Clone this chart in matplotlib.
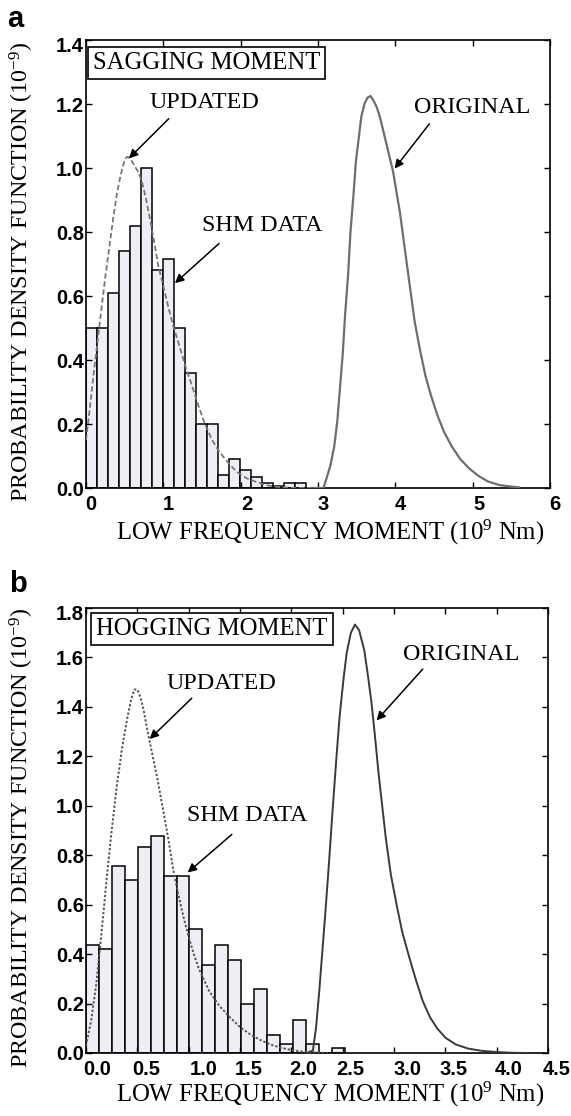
import matplotlib
matplotlib.use("Agg")
import matplotlib.pyplot as plt
from matplotlib.transforms import ScaledTranslation

# ---------------- data ----------------
# Panel a (sagging)
a_bin_left = [0.000, 0.142, 0.284, 0.426, 0.568, 0.710, 0.852, 0.994, 1.136, 1.278,
              1.420, 1.562, 1.704, 1.846, 1.988, 2.130, 2.272, 2.414, 2.556, 2.698]
a_bin_width = 0.142
a_hist = [0.50, 0.50, 0.61, 0.74, 0.82, 1.00, 0.68, 0.715, 0.50, 0.36,
          0.20, 0.20, 0.04, 0.09, 0.055, 0.035, 0.017, 0.006, 0.015, 0.015]

a_upd_x = [0.00, 0.05, 0.10, 0.15, 0.20, 0.25, 0.30, 0.35, 0.40, 0.45, 0.50, 0.53, 0.57,
           0.62, 0.67, 0.72, 0.77, 0.82, 0.87, 0.93, 1.00, 1.07, 1.13, 1.20, 1.28, 1.37,
           1.45, 1.53, 1.63, 1.72, 1.80, 1.90, 1.97, 2.08, 2.19, 2.30, 2.41, 2.55, 2.70, 3.00]
a_upd_y = [0.15, 0.25, 0.36, 0.46, 0.56, 0.66, 0.75, 0.84, 0.92, 0.98, 1.025, 1.035, 1.03,
           1.01, 0.99, 0.96, 0.91, 0.85, 0.785, 0.70, 0.63, 0.56, 0.505, 0.45, 0.385, 0.32,
           0.26, 0.205, 0.15, 0.115, 0.09, 0.063, 0.047, 0.03, 0.02, 0.011, 0.005, 0.002, 0.0, 0.0]

a_org_x = [2.95, 3.07, 3.11, 3.16, 3.21, 3.25, 3.28, 3.32, 3.35, 3.39, 3.42, 3.46, 3.49, 3.53,
           3.56, 3.60, 3.64, 3.68, 3.72, 3.76, 3.80, 3.85, 3.90, 3.97, 4.06, 4.16, 4.25, 4.32,
           4.39, 4.46, 4.54, 4.63, 4.73, 4.84, 4.96, 5.08, 5.20, 5.35, 5.48, 5.60]
a_org_y = [0.0, 0.0, 0.03, 0.07, 0.13, 0.21, 0.30, 0.42, 0.54, 0.67, 0.80, 0.92, 1.02, 1.10,
           1.16, 1.20, 1.22, 1.225, 1.21, 1.19, 1.16, 1.11, 1.06, 0.99, 0.86, 0.68, 0.52, 0.43,
           0.35, 0.29, 0.23, 0.175, 0.13, 0.09, 0.06, 0.037, 0.02, 0.009, 0.005, 0.002]

a_xticks = [0, 1, 2, 3, 4, 5, 6]
a_xticklabels = ["0", "1", "2", "3", "4", "5", "6"]
a_yticks = [0.0, 0.2, 0.4, 0.6, 0.8, 1.0, 1.2, 1.4]
a_yticklabels = ["0.0", "0.2", "0.4", "0.6", "0.8", "1.0", "1.2", "1.4"]

# Panel b (hogging)
b_bin_left = [0.000, 0.126, 0.252, 0.378, 0.504, 0.630, 0.756, 0.882, 1.008, 1.134,
              1.260, 1.386, 1.512, 1.638, 1.764, 1.890, 2.016, 2.142, 2.268, 2.394]
b_bin_width = 0.126
b_hist = [0.435, 0.42, 0.757, 0.70, 0.835, 0.878, 0.716, 0.716, 0.50, 0.355,
          0.435, 0.378, 0.20, 0.258, 0.074, 0.036, 0.135, 0.036, 0.0, 0.02]

b_upd_x = [0.00, 0.05, 0.10, 0.15, 0.20, 0.25, 0.30, 0.35, 0.40, 0.44, 0.47, 0.50, 0.53,
           0.56, 0.60, 0.65, 0.70, 0.75, 0.80, 0.85, 0.90, 0.95, 1.00, 1.05, 1.10, 1.20,
           1.30, 1.40, 1.50, 1.60, 1.70, 1.80, 1.90, 2.00, 2.10, 2.20, 2.35]
b_upd_y = [0.03, 0.13, 0.28, 0.48, 0.70, 0.90, 1.08, 1.23, 1.35, 1.43, 1.47, 1.47, 1.44,
           1.39, 1.30, 1.20, 1.10, 0.985, 0.87, 0.74, 0.64, 0.55, 0.47, 0.40, 0.34, 0.25,
           0.19, 0.145, 0.105, 0.075, 0.052, 0.034, 0.021, 0.012, 0.006, 0.003, 0.0]

b_org_x = [2.15, 2.21, 2.24, 2.27, 2.30, 2.33, 2.36, 2.40, 2.44, 2.47, 2.51, 2.54, 2.58,
           2.62, 2.66, 2.71, 2.745, 2.78, 2.815, 2.85, 2.885, 2.92, 2.97, 3.03, 3.08, 3.14,
           3.21, 3.28, 3.35, 3.42, 3.50, 3.60, 3.72, 3.85, 4.00, 4.15, 4.30]
b_org_y = [0.0, 0.01, 0.10, 0.24, 0.40, 0.56, 0.73, 0.97, 1.20, 1.36, 1.52, 1.62, 1.70,
           1.733, 1.71, 1.63, 1.53, 1.42, 1.28, 1.13, 1.00, 0.87, 0.72, 0.59, 0.49, 0.40,
           0.30, 0.21, 0.145, 0.10, 0.062, 0.035, 0.018, 0.009, 0.004, 0.001, 0.0]

b_xticks = [0.0, 0.5, 1.0, 1.5, 2.0, 2.5, 3.0, 3.5, 4.0, 4.5]
b_xticklabels = ["0.0", "0.5", "1.0", "1.5", "2.0", "2.5", "3.0", "3.5", "4.0", "4.5"]
b_yticks = [0.0, 0.2, 0.4, 0.6, 0.8, 1.0, 1.2, 1.4, 1.6, 1.8]
b_yticklabels = ["0.0", "0.2", "0.4", "0.6", "0.8", "1.0", "1.2", "1.4", "1.6", "1.8"]

# ---------------- figure ----------------
plt.rcParams["mathtext.fontset"] = "custom"
plt.rcParams["mathtext.rm"] = "Liberation Serif"
plt.rcParams["mathtext.it"] = "Liberation Serif"
plt.rcParams["mathtext.default"] = "rm"

W, H = 571, 1116
fig = plt.figure(figsize=(W / 100, H / 100), dpi=100)

SERIF = ["Liberation Serif", "DejaVu Serif"]
SANS = ["Liberation Sans", "DejaVu Sans"]
SERIF_SIZE = 17.8
YLAB_SIZE = 17.3
TICK_SIZE = 14.5


def px_axes(x0, x1, ytop, ybot):
    return fig.add_axes([x0 / W, 1 - ybot / H, (x1 - x0) / W, (ybot - ytop) / H])


def style_axes(ax, xlim, ylim, xticks, xtl, yticks, ytl, xoffs):
    ax.set_xlim(*xlim)
    ax.set_ylim(*ylim)
    ax.set_xticks(xticks)
    ax.set_xticklabels(xtl)
    ax.set_yticks(yticks)
    ax.set_yticklabels(ytl)
    ax.tick_params(direction="in", length=4, width=1.0, top=True, right=True,
                   labelsize=TICK_SIZE, colors="black")
    ax.tick_params(axis="x", pad=5)
    ax.tick_params(axis="y", pad=1.5)
    for lab in ax.get_xticklabels() + ax.get_yticklabels():
        lab.set_fontfamily(SANS)
        lab.set_fontweight("bold")
    for lab, dx in zip(ax.get_xticklabels(), xoffs):
        lab.set_transform(lab.get_transform() +
                          ScaledTranslation(dx / 100, 0, fig.dpi_scale_trans))
    # top y label sits a little lower, as in the reference
    top = ax.get_yticklabels()[-1]
    top.set_transform(top.get_transform() +
                      ScaledTranslation(0, -5 / 100, fig.dpi_scale_trans))
    for s in ax.spines.values():
        s.set_linewidth(1.2)
        s.set_color("black")


def arrow(ax, text_xy, start, end, label):
    ax.text(text_xy[0], text_xy[1], label, fontsize=SERIF_SIZE - 0.5, family=SERIF,
            ha="center", va="center")
    ax.annotate("", xy=end, xytext=start,
                arrowprops=dict(arrowstyle="-|>", color="black", lw=1.1,
                                mutation_scale=13, shrinkA=0, shrinkB=0))


BAR_FACE = "#eeeff4"

# ---- panel a ----
axa = px_axes(86, 550, 40, 488)
axa.bar(a_bin_left, a_hist, width=a_bin_width, align="edge", color=BAR_FACE,
        edgecolor="black", linewidth=1.1, zorder=1)
axa.plot(a_upd_x, a_upd_y, color="#777777", lw=1.3, ls=(0, (3, 1.5)), zorder=3)
axa.plot(a_org_x, a_org_y, color="#6e6e6e", lw=1.6, zorder=3)
style_axes(axa, (0, 6), (0, 1.4), a_xticks, a_xticklabels, a_yticks, a_yticklabels,
           [5, 5, 6, 5, 5, 6, 5])
axa.text(0.015, 0.949, "SAGGING MOMENT", transform=axa.transAxes, fontsize=SERIF_SIZE,
         family=SERIF, ha="left", va="center",
         bbox=dict(boxstyle="square,pad=0.2", fc="white", ec="black", lw=1.2))
arrow(axa, (1.53, 1.205), (1.07, 1.154), (0.555, 1.03), "UPDATED")
arrow(axa, (4.99, 1.19), (4.44, 1.138), (3.99, 0.998), "ORIGINAL")
arrow(axa, (2.28, 0.82), (1.72, 0.764), (1.15, 0.64), "SHM DATA")

# ---- panel b ----
axb = px_axes(86, 548, 608, 1053)
axb.bar(b_bin_left, b_hist, width=b_bin_width, align="edge", color=BAR_FACE,
        edgecolor="black", linewidth=1.1, zorder=1)
axb.plot(b_upd_x, b_upd_y, color="#555555", lw=1.4, ls=(0, (1.2, 1.0)), zorder=3)
axb.plot(b_org_x, b_org_y, color="#3a3a3a", lw=1.4, zorder=3)
style_axes(axb, (0, 4.5), (0, 1.8), b_xticks, b_xticklabels, b_yticks, b_yticklabels,
           [11.5, 8.5, 14.6, 8.7, 12.3, 7.6, 13, 7.9, 12.3, 9])
axb.text(0.022, 0.953, "HOGGING MOMENT", transform=axb.transAxes, fontsize=SERIF_SIZE,
         family=SERIF, ha="left", va="center",
         bbox=dict(boxstyle="square,pad=0.2", fc="white", ec="black", lw=1.2))
arrow(axb, (1.32, 1.496), (1.03, 1.435), (0.62, 1.27), "UPDATED")
arrow(axb, (3.655, 1.611), (3.28, 1.553), (2.83, 1.345), "ORIGINAL")
arrow(axb, (1.575, 0.962), (1.42, 0.884), (0.99, 0.73), "SHM DATA")

# ---- axis labels and panel letters ----
ylab = "PROBABILITY DENSITY FUNCTION (10$^{-9}$)"
xlab = "LOW FREQUENCY MOMENT (10$^{9}$ Nm)"

fig.text(22 / W, 1 - 272 / H, ylab, rotation=90, fontsize=YLAB_SIZE, family=SERIF,
         ha="center", va="center")
fig.text(22 / W, 1 - 838 / H, ylab, rotation=90, fontsize=YLAB_SIZE, family=SERIF,
         ha="center", va="center")
fig.text(330 / W, 1 - 532 / H, xlab, fontsize=SERIF_SIZE, family=SERIF,
         ha="center", va="center")
fig.text(330 / W, 1 - 1094 / H, xlab, fontsize=SERIF_SIZE, family=SERIF,
         ha="center", va="center")
fig.text(7 / W, 1 - 27 / H, "a", fontsize=21, family=SANS, weight="bold",
         ha="left", va="baseline")
fig.text(9 / W, 1 - 592 / H, "b", fontsize=21, family=SANS, weight="bold",
         ha="left", va="baseline")

fig.savefig("out.png", dpi=100, facecolor="white")
